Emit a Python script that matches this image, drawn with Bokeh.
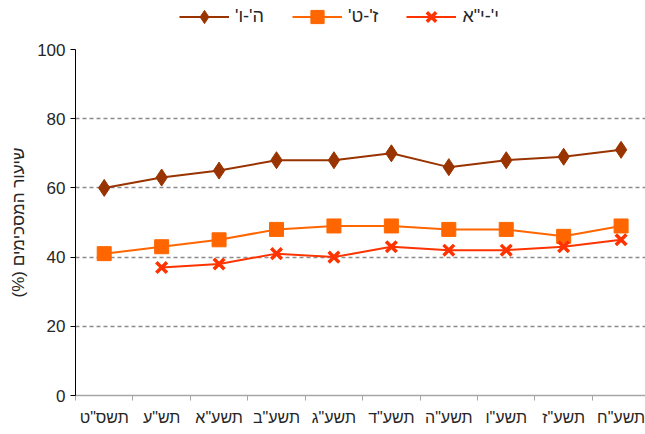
import numpy as np
from bokeh.plotting import figure
from bokeh.layouts import column
from bokeh.models import Range1d, FixedTicker, Legend, LegendItem, ColumnDataSource
from bokeh.embed import file_html
from bokeh.resources import INLINE

RLM = "\u200F"
years = ['תשס"ט', 'תש"ע', 'תשע"א', 'תשע"ב', 'תשע"ג', 'תשע"ד', 'תשע"ה', 'תשע"ו', 'תשע"ז', 'תשע"ח']
grades_5_6 = [60, 63, 65, 68, 68, 70, 66, 68, 69, 71]
grades_7_9 = [41, 43, 45, 48, 49, 49, 48, 48, 46, 49]
grades_10_11 = [None, 37, 38, 41, 40, 43, 42, 42, 43, 45]
series_names = ["ה'-ו'", "ז'-ט'", 'י\'-י"א']
y_title = "שיעור המסכימים (%)"
y_ticks = [0, 20, 40, 60, 80, 100]

FONT = "Liberation Sans"
LEG_H = 33
c1, c2, c3 = "#993300", "#ff6600", "#ff3300"
styles = [
    dict(color=c1, marker="diamond", size=17, fill=c1, lw=1),
    dict(color=c2, marker="square", size=14, fill=c2, lw=1),
    dict(color=c3, marker="x", size=15, fill=None, lw=3.5),
]

xs = np.arange(len(years), dtype=float)
src = ColumnDataSource(dict(
    x=xs,
    a=np.array(grades_5_6, dtype=float),
    b=np.array(grades_7_9, dtype=float),
    c=np.array([np.nan if v is None else v for v in grades_10_11], dtype=float),
))

p = figure(width=645, height=434 - LEG_H, output_backend="svg", toolbar_location=None,
           x_range=Range1d(-0.5, 9.425), y_range=Range1d(0, 100),
           min_border_left=75, min_border_right=0, min_border_top=49 - LEG_H, min_border_bottom=39)
p.outline_line_color = None

p.xaxis.ticker = FixedTicker(ticks=list(range(len(years))),
                             minor_ticks=[i - 0.5 for i in range(len(years) + 1)])
p.xaxis.major_label_overrides = {i: y + RLM for i, y in enumerate(years)}
p.xaxis.major_tick_out = 0
p.xaxis.major_tick_in = 0
p.xaxis.minor_tick_out = 5
p.xaxis.minor_tick_in = 0
p.xaxis.minor_tick_line_color = "#a6a6a6"
p.xaxis.axis_line_color = "#a6a6a6"
p.xaxis.axis_line_width = 1.5
p.xaxis.major_label_text_font = FONT
p.xaxis.major_label_text_font_size = "16px"
p.xaxis.major_label_text_color = "#262626"
p.xaxis.major_label_standoff = 8

p.yaxis.ticker = FixedTicker(ticks=y_ticks)
p.yaxis.minor_tick_line_color = None
p.yaxis.major_tick_out = 5
p.yaxis.major_tick_in = 0
p.yaxis.axis_line_color = "black"
p.yaxis.major_tick_line_color = "black"
p.yaxis.major_label_text_font = FONT
p.yaxis.major_label_text_font_size = "17px"
p.yaxis.major_label_text_color = "#262626"
p.yaxis.major_label_standoff = 5
p.yaxis.axis_label = RLM + y_title + RLM
p.yaxis.axis_label_text_font = FONT
p.yaxis.axis_label_text_font_size = "17px"
p.yaxis.axis_label_text_font_style = "normal"
p.yaxis.axis_label_text_color = "#262626"
p.yaxis.axis_label_standoff = 6

p.xgrid.grid_line_color = None
p.ygrid.grid_line_color = "#8c8c8c"
p.ygrid.grid_line_dash = "4 3"
p.ygrid.grid_line_width = 1.5

for col, st in zip(["a", "b", "c"], styles):
    p.line("x", col, source=src, line_color=st["color"], line_width=2)
    p.scatter("x", col, source=src, marker=st["marker"], size=st["size"],
              fill_color=st["fill"], line_color=st["color"], line_width=st["lw"])

# legend strip above the plot (series drawn out of its view; only the legend shows)
lg = figure(width=645, height=LEG_H, output_backend="svg", toolbar_location=None,
            x_range=Range1d(-200, -199), y_range=Range1d(-200, -199),
            x_axis_type=None, y_axis_type=None,
            min_border_left=0, min_border_right=0, min_border_top=0, min_border_bottom=0)
lg.outline_line_color = None
lg.grid.visible = False
items = []
for name, col, st in zip(series_names, ["a", "b", "c"], styles):
    r1 = lg.line("x", col, source=src, line_color=st["color"], line_width=2)
    r2 = lg.scatter("x", col, source=src, marker=st["marker"], size=st["size"],
                    fill_color=st["fill"], line_color=st["color"], line_width=st["lw"])
    items.append(LegendItem(label=name + RLM, renderers=[r1, r2]))
legend = Legend(items=items, orientation="horizontal", location=(104, 0))
legend.glyph_width = 50
legend.glyph_height = 33
legend.label_standoff = 6
legend.spacing = 28
legend.padding = 0
legend.margin = 0
legend.border_line_color = None
legend.background_fill_alpha = 0
legend.label_text_font = FONT
legend.label_text_font_size = "18px"
legend.label_text_color = "#262626"
lg.add_layout(legend, "center")

layout = column(lg, p, spacing=0)
open("out.html", "w").write(file_html(layout, INLINE))
